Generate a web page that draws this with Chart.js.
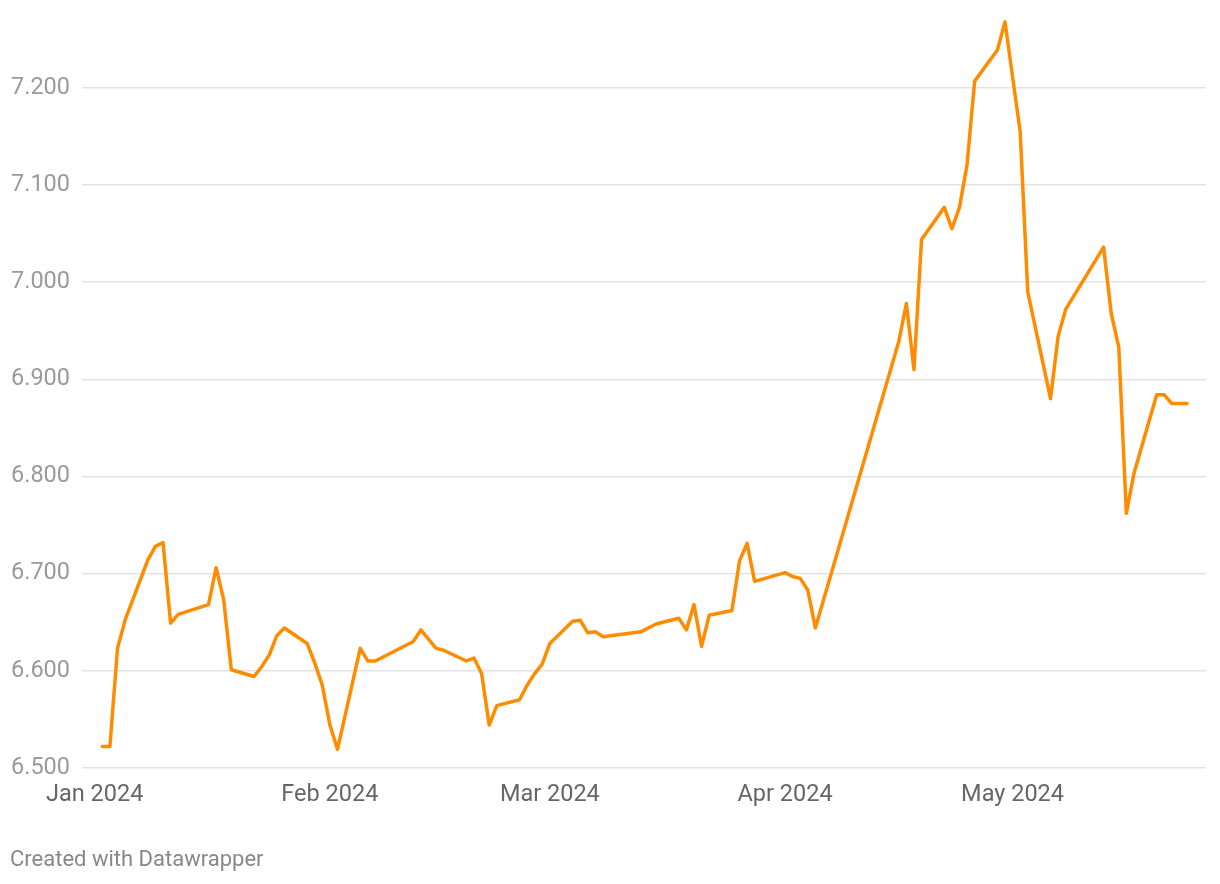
<!DOCTYPE html>
<html>
<head>
<meta charset="utf-8">
<title>Line chart 2024</title>
<script src="https://cdn.jsdelivr.net/npm/chart.js@4.4.1/dist/chart.umd.min.js"></script>
<style>
  html, body { margin: 0; padding: 0; background: #ffffff; }
  #wrap { position: relative; width: 1220px; height: 884px; }
  #myChart { position: absolute; left: 0; top: 0; }
  #credit {
    position: absolute; left: 10px; top: 846px;
    font-family: Roboto, sans-serif; font-size: 22px; color: #888888;
  }
</style>
</head>
<body>
<div id="wrap">
  <canvas id="myChart" width="1220" height="884"></canvas>
  <div id="credit">Created with Datawrapper</div>
</div>
<script>
'use strict';

// Global Values
// days counted from Jan 1 2024
let arrOfDays = [
  1, 2, 3, 4, 7, 8, 9, 10, 11, 15, 16, 17, 18, 21, 22, 23, 24, 25, 28, 29, 30,
  31, 32, 35, 36, 37, 42, 43, 45, 46, 49, 50, 51, 52, 53, 56, 57, 58, 59,
  60, 63, 64, 65, 66, 67, 72, 74, 77, 78, 79, 80, 81, 84, 85, 86, 87,
  91, 92, 93, 94, 95, 106, 107, 108, 109, 112, 113, 114, 115, 116, 119, 120,
  122, 123, 126, 127, 128, 133, 134, 135, 136, 137, 140, 141, 142, 144
];
let arrOfValues = [
  6.522, 6.522, 6.623, 6.652, 6.714, 6.728, 6.732, 6.649, 6.658, 6.668, 6.706, 6.673, 6.601, 6.594, 6.604, 6.616, 6.636, 6.644, 6.628, 6.608, 6.585,
  6.544, 6.519, 6.623, 6.610, 6.610, 6.630, 6.642, 6.623, 6.621, 6.610, 6.613, 6.597, 6.544, 6.564, 6.570, 6.585, 6.597, 6.607,
  6.628, 6.651, 6.652, 6.639, 6.640, 6.635, 6.640, 6.648, 6.654, 6.642, 6.668, 6.625, 6.657, 6.662, 6.713, 6.731, 6.692,
  6.701, 6.697, 6.695, 6.683, 6.644, 6.939, 6.978, 6.910, 7.044, 7.077, 7.055, 7.077, 7.121, 7.207, 7.239, 7.268,
  7.155, 6.990, 6.880, 6.944, 6.972, 7.036, 6.968, 6.933, 6.762, 6.803, 6.884, 6.884, 6.875, 6.875
];
let arrOfMonthDays = [0, 31, 60, 91, 121];
let arrOfMonthNames = ['Jan 2024', 'Feb 2024', 'Mar 2024', 'Apr 2024', 'May 2024'];
let arrOfYTicks = [6.5, 6.6, 6.7, 6.8, 6.9, 7.0, 7.1, 7.2];

let points = [];
for (let i = 0; i < arrOfDays.length; i++) {
  points.push({ x: arrOfDays[i], y: arrOfValues[i] });
}

function chart() {
  let ctx = document.getElementById('myChart');
  // eslint-disable-next-line no-undef
  let myChart = new Chart(ctx, {
    type: 'line',
    data: {
      datasets: [{
        label: 'Value',
        data: points,
        borderColor: '#ff8c00',
        borderWidth: 3.5,
        borderJoinStyle: 'round',
        borderCapStyle: 'round',
        pointRadius: 0,
        tension: 0,
        fill: false
      }]
    },
    options: {
      responsive: false,
      animation: false,
      layout: {
        padding: { left: 11, right: 14, top: 2, bottom: 62 }
      },
      plugins: {
        legend: { display: false },
        tooltip: { enabled: false }
      },
      scales: {
        x: {
          type: 'linear',
          min: -1.68,
          max: 146.5,
          afterBuildTicks: function (scale) {
            scale.ticks = arrOfMonthDays.map(function (d) { return { value: d }; });
          },
          ticks: {
            autoSkip: false,
            maxRotation: 0,
            padding: 13,
            color: '#666666',
            font: { family: 'Roboto', size: 23.5 },
            callback: function (value) {
              let idx = arrOfMonthDays.indexOf(value);
              return idx >= 0 ? arrOfMonthNames[idx] : '';
            }
          },
          grid: { display: false, drawTicks: false },
          border: { display: false }
        },
        y: {
          type: 'linear',
          min: 6.5,
          max: 7.276,
          afterBuildTicks: function (scale) {
            scale.ticks = arrOfYTicks.map(function (v) { return { value: v }; });
          },
          afterFit: function (scale) {
            scale.width = 71;
          },
          ticks: {
            crossAlign: 'far',
            padding: 0,
            color: '#9a9a9a',
            font: { family: 'Roboto', size: 23.5 },
            callback: function (value) {
              return value.toFixed(3);
            }
          },
          grid: {
            color: '#e3e3e3',
            lineWidth: 1.5,
            drawTicks: false
          },
          border: { display: false }
        }
      }
    }
  });
}
chart();
</script>
</body>
</html>
